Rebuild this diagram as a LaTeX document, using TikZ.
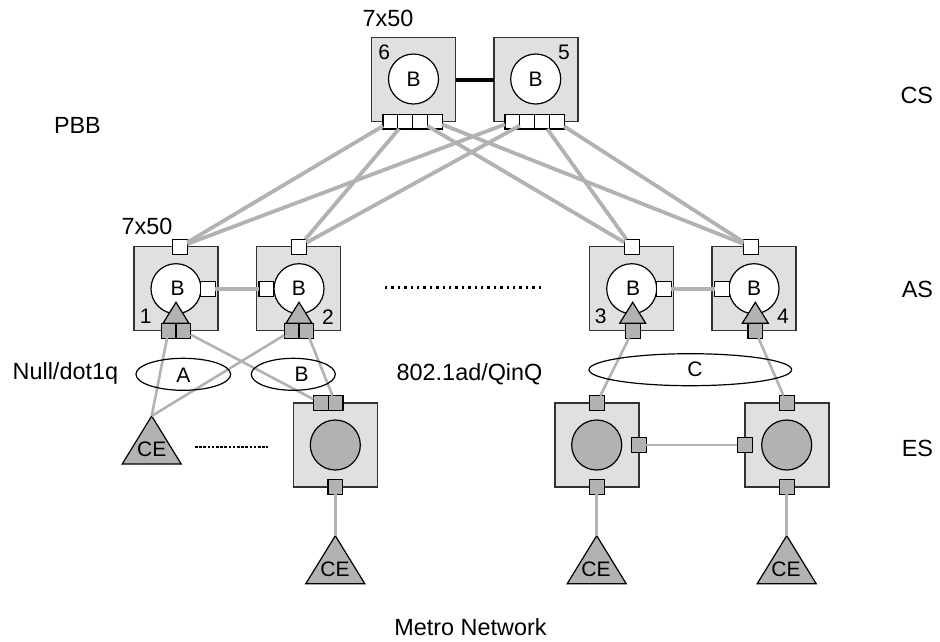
\documentclass[tikz,border=0pt]{standalone}
\usepackage{fontspec}
\setmainfont{Liberation Sans}
\usetikzlibrary{shapes.geometric}
\definecolor{boxfill}{HTML}{E0E0E0}
\definecolor{midgray}{HTML}{B2B2B2}
\definecolor{edge}{HTML}{333333}
\tikzset{
  x=1pt,y=-1pt,
  every node/.style={inner sep=0pt,outer sep=0pt,font=\fontsize{21}{25}\selectfont},
  biglabel/.style={font=\fontsize{23.4}{28}\selectfont},
  sw/.style={draw=edge,line width=1.2pt,fill=boxfill,minimum size=84pt},
  bcirc/.style={circle,draw=black,line width=1.2pt,fill=white,minimum size=50pt},
  gcirc/.style={circle,draw=black,line width=1.2pt,fill=midgray,minimum size=50pt},
  wport/.style={draw=black,line width=1.2pt,fill=white,minimum size=14.8pt},
  gport/.style={draw=black,line width=1.2pt,fill=midgray,minimum size=14.8pt},
  tri/.style={isosceles triangle,isosceles triangle stretches,shape border rotate=90,draw=black,line width=1.2pt,fill=midgray,anchor=apex},
  smalltri/.style={tri,minimum width=26pt,minimum height=21pt},
  cetri/.style={tri,minimum width=59pt,minimum height=48pt},
  ell/.style={ellipse,draw=black,line width=1.2pt},
  link/.style={draw=midgray,line width=3.8pt},
  thin link/.style={draw=midgray,line width=2.6pt},
  drop link/.style={draw=midgray,line width=3pt},
  hair link/.style={draw=midgray,line width=2.2pt},
  core link/.style={draw=black,line width=4pt},
  dots/.style={draw=black,line width=2.4pt,dash pattern=on 2.4pt off 4pt},
  dots dense/.style={draw=black,line width=2.2pt,dash pattern=on 2.6pt off 1.6pt},
}
\begin{document}
\begin{tikzpicture}
\useasboundingbox (0,0) rectangle (940,641);
% CS
\node[sw] (s6) at (413.7,79.5) {};
\node[sw] (s5) at (535.9,79.5) {};
\node[bcirc] (c6) at (413.5,79) {B};
\node[bcirc] (c5) at (535.7,79) {B};
\node (n6) at (384.3,52.3) {6};
\node (n5) at (564,52.3) {5};
\node[biglabel,anchor=west] (l750a) at (362.7,18.3) {7x50};
\foreach \n/\x in {a/390.4,b/405.2,c/420,d/434.8}{\node[wport] (p6\n) at (\x,121.6) {};}
\foreach \n/\x in {a/512.4,b/527.2,c/542,d/556.8}{\node[wport] (p5\n) at (\x,121.6) {};}
% AS
\node[sw] (s1) at (176,288.5) {};
\node[sw] (s2) at (298.5,288.5) {};
\node[sw] (s3) at (631.7,288.5) {};
\node[sw] (s4) at (753.9,288.5) {};
\node[bcirc] (c1) at (176,288.7) {};
\node[bcirc] (c2) at (299,288.7) {};
\node[bcirc] (c3) at (631.7,288.7) {};
\node[bcirc] (c4) at (754,288.7) {};
\node (b1) at (177.7,288.7) {B};
\node (b2) at (299,288.7) {B};
\node (b3) at (633,288.7) {B};
\node (b4) at (754,288.7) {B};
\node[smalltri] (tr1) at (176,302.3) {};
\node[smalltri] (tr2) at (299,302.3) {};
\node[smalltri] (tr3) at (632.7,302.3) {};
\node[smalltri] (tr4) at (755.3,302.3) {};
\node (n1) at (145.7,316.7) {1};
\node (n2) at (328,316.7) {2};
\node (n3) at (600.7,316.7) {3};
\node (n4) at (783,316.7) {4};
\node[biglabel,anchor=west] (l750b) at (121.7,226.7) {7x50};
\node[wport] (t1) at (180,246.7) {};
\node[wport] (t2) at (299,246.7) {};
\node[wport] (t3) at (631.7,246.7) {};
\node[wport] (t4) at (750.7,246.7) {};
\node[wport] (r1) at (208,288.7) {};
\node[wport] (l2) at (266.3,288.7) {};
\node[wport] (r3) at (664,288.7) {};
\node[wport] (l4) at (722,288.7) {};
\node[gport] (p1a) at (168.5,330.7) {};
\node[gport] (p1b) at (183.3,330.7) {};
\node[gport] (p2a) at (291.6,330.7) {};
\node[gport] (p2b) at (306.4,330.7) {};
\node[gport] (p3) at (632.7,330.7) {};
\node[gport] (p4) at (755.3,330.7) {};
% ES
\node[sw] (e2) at (335.7,445) {};
\node[sw] (e3) at (596.9,445) {};
\node[sw] (e4) at (786.9,445) {};
\node[gcirc] (g2) at (335.3,445) {};
\node[gcirc] (g3) at (596.7,445) {};
\node[gcirc] (g4) at (786.7,445) {};
\node[gport] (e2a) at (320.7,403) {};
\node[gport] (e2b) at (335.5,403) {};
\node[gport] (e3t) at (596.7,403) {};
\node[gport] (e4t) at (786.7,403) {};
\node[gport] (e2s) at (335.3,487) {};
\node[gport] (e3s) at (596.7,487) {};
\node[gport] (e4s) at (786.7,487) {};
\node[gport] (e3r) at (639,444.7) {};
\node[gport] (e4l) at (744.7,444.7) {};
% CE
\node[cetri] (ce1) at (151.7,416) {};
\node[cetri] (ce2) at (335.3,535.7) {};
\node[cetri] (ce3) at (596.7,535.7) {};
\node[cetri] (ce4) at (786.7,535.7) {};
\node (ct1) at (151.7,449.3) {CE};
\node (ct2) at (335,569) {CE};
\node (ct3) at (596,569) {CE};
\node (ct4) at (786,569) {CE};
% Connectors
\draw[core link] (s6) -- (s5);
\foreach \a/\b in {p6a/t1,p6b/t2,p6c/t3,p6d/t4,p5a/t1,p5b/t2,p5c/t3,p5d/t4,r1/l2,r3/l4}{\draw[link] (\a) -- (\b);}
\draw[thin link] (p1a) -- (ce1.apex);
\draw[thin link] (p2a) -- (ce1.apex);
\draw[thin link] (p1b) -- (e2a);
\draw[thin link] (p2b) -- (e2b);
\draw[thin link] (p3) -- (e3t);
\draw[thin link] (p4) -- (e4t);
\draw[hair link] (e3r) -- (e4l);
\draw[drop link] (e2s) -- (ce2.apex);
\draw[drop link] (e3s) -- (ce3.apex);
\draw[drop link] (e4s) -- (ce4.apex);
% Ellipses
\node[ell,minimum width=94.7pt,minimum height=32pt] (ea) at (183.3,374.3) {};
\node[ell,minimum width=84pt,minimum height=32pt] (eb) at (293.3,374.3) {};
\node[ell,minimum width=202.7pt,minimum height=32pt] (ec) at (690.3,369.7) {};
\node (ta) at (183.3,374.8) {A};
\node (tb) at (301.7,374.3) {B};
\node (tc) at (695,369.7) {C};
% Labels
\node[biglabel,anchor=east] (cs) at (933,95) {CS};
\node[biglabel,anchor=west] (pbb) at (54,125) {PBB};
\node[biglabel,anchor=east] (as) at (933,289.3) {AS};
\node[biglabel,anchor=east] (esl) at (933,448) {ES};
\node[biglabel,anchor=west] (nd) at (12.7,373) {Null/dot1q};
\node[biglabel,anchor=west] (qq) at (396.7,374) {802.1ad/QinQ};
\node[biglabel] (mn) at (470.5,626.7) {Metro Network};
% Dotted
\coordinate (d1) at (385,287.3);
\coordinate (d2) at (543,287.3);
\coordinate (d3) at (195,446.7);
\coordinate (d4) at (268,446.7);
\draw[dots] (d1) -- (d2);
\draw[dots dense] (d3) -- (d4);
\end{tikzpicture}
\end{document}
